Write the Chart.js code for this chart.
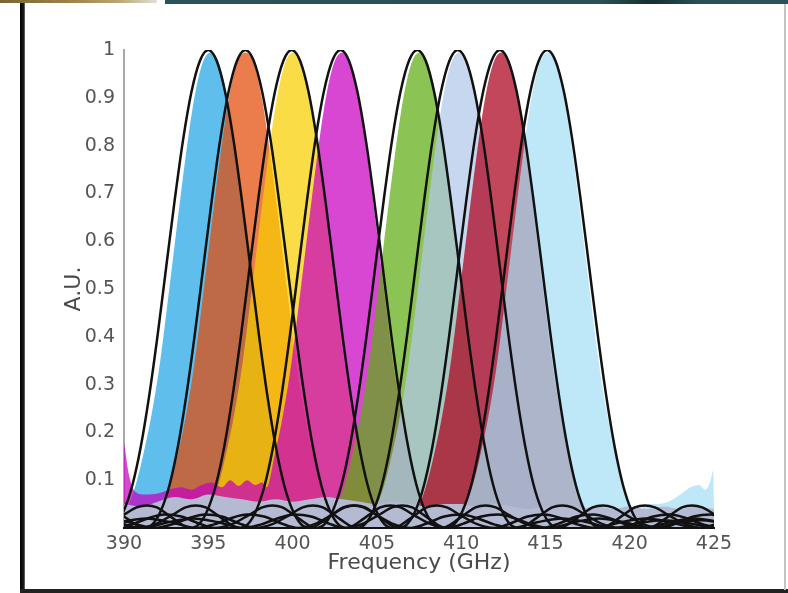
<!DOCTYPE html>
<html lang="en">
  <head>
    <meta charset="UTF-8" />
    <title>Channel spectra</title>
    <script src="https://cdn.jsdelivr.net/npm/chart.js"></script>
    <style>
      body { margin: 0; width: 788px; height: 593px; overflow: hidden; background: #fff; position: relative; }
      #chart { position: absolute; left: 0; top: 0; }
      .frame { position: absolute; }
    </style>
  </head>
  <body>
    <canvas id="chart" width="788" height="593"></canvas>
    <div class="frame" style="left:0;top:0;width:157px;height:3px;background:linear-gradient(to right,#7a6634,#9c8448 45%,#b9a56e 75%,#e2e0da)"></div>
    <div class="frame" style="left:165px;top:0;width:623px;height:4px;background:linear-gradient(to right,#2b5259,#2a5057 70%,#15302f 78%,#2a5057 86%,#2c535b)"></div>
    <div class="frame" style="left:20px;top:3px;width:5px;height:590px;background:linear-gradient(to right,#000,#1a1a1a 70%,#777)"></div>
    <div class="frame" style="left:20px;top:589px;width:768px;height:4px;background:#222"></div>
    <div class="frame" style="left:784px;top:4px;width:2px;height:586px;background:#c4c4c4"></div>
    <script>
      // axis ticks
      const xTicks = [390, 395, 400, 405, 410, 415, 420, 425];
      const yTicks = [0, 0.1, 0.2, 0.3, 0.4, 0.5, 0.6, 0.7, 0.8, 0.9, 1];
      const yTickLabels = ["", "0.1", "0.2", "0.3", "0.4", "0.5", "0.6", "0.7", "0.8", "0.9", "1"];

      // black model curves: same lobe shape, one per channel
      const peakCenters = [395.0, 397.2, 399.95, 402.85, 407.4, 409.8, 412.3, 415.1];
      const outlineDx = [-30, -28.5, -27, -25.5, -24, -22.5, -21, -19.5, -18, -17, -16, -15, -14, -13, -12, -11, -10, -9.2, -8.6, -8, -7.5, -7, -6, -5.5, -5, -4.5, -4, -3.5, -3, -2.5, -2, -1.5, -1, -0.5,
        0, 0.5, 1, 1.5, 2, 2.5, 3, 3.5, 4, 4.5, 5, 5.5, 6, 7, 7.5, 8, 8.6, 9.2, 10, 11, 12, 13, 14, 15, 16, 17, 18, 19.5, 21, 22.5, 24, 25.5, 27, 28.5, 30];
      const outlineY = [0, 0.01, 0.016, 0.01, 0, 0.012, 0.02, 0.012, 0, 0.007, 0.02, 0.028, 0.024, 0.01, 0, 0.008, 0.027, 0.043, 0.047, 0.043, 0.032, 0.019, 0, 0.008, 0.037, 0.09, 0.171, 0.278, 0.405, 0.545, 0.684, 0.811, 0.912, 0.977,
        1, 0.977, 0.912, 0.811, 0.684, 0.545, 0.405, 0.278, 0.171, 0.09, 0.037, 0.008, 0, 0.019, 0.032, 0.043, 0.047, 0.043, 0.027, 0.008, 0, 0.01, 0.024, 0.028, 0.02, 0.007, 0, 0.012, 0.02, 0.012, 0, 0.01, 0.016, 0.01, 0];

      // measured (coloured) spectra
      const fillCenters = [395.15, 397.2, 400.05, 402.95, 407.55, 409.9, 412.4, 415.15];
      const fillDx = [-5.5, -5, -4.5, -4, -3.5, -3, -2.5, -2, -1.5, -1, -0.5, 0, 0.5, 1, 1.5, 2, 2.5, 3, 3.5, 4, 4.5, 5, 5.5];
      const fillY = [0.02, 0.04, 0.085, 0.155, 0.24, 0.35, 0.49, 0.635, 0.775, 0.895, 0.972, 0.995, 0.972, 0.895, 0.775, 0.635, 0.49, 0.35, 0.24, 0.155, 0.085, 0.04, 0.02];
      const fillColors = [
        "rgba(33,165,227,0.72)",
        "rgba(227,74,5,0.72)",
        "rgba(248,206,0,0.72)",
        "rgba(199,0,192,0.72)",
        "rgba(95,172,19,0.72)",
        "rgba(179,199,234,0.72)",
        "rgba(172,0,26,0.72)",
        "rgba(165,223,245,0.72)"
      ];
      // noisy floor of channel 4 on the left, channel 8 on the right
      const ch4FloorX = [390, 390.3, 390.7, 391.3, 392, 392.7, 393.4, 394, 394.6, 395.2, 395.8, 396.3, 396.8, 397.3, 397.8, 398.2];
      const ch4FloorY = [0.18, 0.11, 0.075, 0.07, 0.072, 0.08, 0.085, 0.08, 0.09, 0.095, 0.085, 0.1, 0.088, 0.1, 0.09, 0.095];
      const ch8TailX = [420.8, 421.5, 422.3, 423, 423.6, 424.1, 424.5, 424.8, 424.95, 425];
      const ch8TailY = [0.045, 0.05, 0.055, 0.07, 0.085, 0.09, 0.08, 0.1, 0.12, 0.05];

      // grey noise floor under everything
      const floorX = [390, 391, 392, 393, 394, 395, 396, 397, 398, 399, 400, 401, 402, 403, 404, 405, 406, 407, 408, 409, 410, 411, 412, 413, 414, 415, 416, 417, 418, 419, 420, 421, 422, 423, 424, 425];
      const floorY = [0.05, 0.045, 0.055, 0.065, 0.06, 0.07, 0.065, 0.06, 0.055, 0.06, 0.055, 0.06, 0.065, 0.06, 0.055, 0.05, 0.055, 0.05, 0.045, 0.05, 0.05, 0.045, 0.05, 0.045, 0.04, 0.045, 0.045, 0.04, 0.045, 0.04, 0.045, 0.04, 0.045, 0.04, 0.045, 0.04];

      const FONT = "DejaVu Sans";

      const datasets = [];
      peakCenters.forEach((c) => {
        datasets.push({
          data: outlineDx.map((d, i) => ({ x: c + d, y: outlineY[i] })),
          borderColor: "#111",
          borderWidth: 2.5,
          fill: false,
          order: 0,
        });
      });
      datasets.push({
        data: floorX.map((x, i) => ({ x: x, y: floorY[i] })),
        borderColor: "rgba(0,0,0,0)",
        borderWidth: 0,
        backgroundColor: "#b5bad3",
        fill: "origin",
        order: 1,
      });
      fillCenters.forEach((c, k) => {
        let pts = fillDx.map((d, i) => ({ x: c + d, y: fillY[i] }));
        if (k === 3) {
          const extra = ch4FloorX.map((x, i) => ({ x: x, y: ch4FloorY[i] }));
          pts = extra.concat(pts.filter((p) => p.x > ch4FloorX[ch4FloorX.length - 1]));
        }
        if (k === 7) {
          const tail = ch8TailX.map((x, i) => ({ x: x, y: ch8TailY[i] }));
          pts = pts.filter((p) => p.x < ch8TailX[0]).concat(tail);
        }
        datasets.push({
          data: pts,
          borderColor: "rgba(0,0,0,0)",
          borderWidth: 0,
          backgroundColor: fillColors[k],
          fill: "origin",
          order: 9 - k,
        });
      });

      new Chart(document.getElementById("chart"), {
        type: "line",
        data: { datasets: datasets },
        options: {
          responsive: false,
          animation: false,
          events: [],
          layout: { padding: { left: 26, top: 50, right: 74, bottom: 0 } },
          elements: {
            point: { radius: 0 },
            line: { cubicInterpolationMode: "monotone" },
          },
          plugins: { legend: { display: false }, tooltip: { enabled: false } },
          scales: {
            x: {
              type: "linear",
              min: 390,
              max: 425,
              afterFit: (s) => { s.height = 65; },
              afterBuildTicks: (s) => { s.ticks = xTicks.map((v) => ({ value: v })); },
              grid: { display: false },
              border: { display: true, color: "#111", width: 2, z: 1 },
              ticks: { padding: 0, color: "#555", maxRotation: 0, autoSkip: false, font: { family: FONT, size: 19, lineHeight: 0.9 } },
              title: {
                display: true,
                text: "Frequency (GHz)",
                color: "#4a4a4a",
                font: { family: FONT, size: 22 },
                padding: { top: 0, bottom: 17 },
              },
            },
            y: {
              type: "linear",
              min: 0,
              max: 1,
              afterFit: (s) => { s.width = 98; },
              afterBuildTicks: (s) => { s.ticks = yTicks.map((v) => ({ value: v })); },
              grid: { display: false },
              border: { display: true, color: "#a8a8a8", width: 2 },
              ticks: {
                padding: 1,
                color: "#555",
                font: { family: FONT, size: 19 },
                callback: (v, i) => yTickLabels[i],
              },
              title: {
                display: true,
                text: "A.U.",
                color: "#4a4a4a",
                font: { family: FONT, size: 22 },
                padding: { top: 35, bottom: 0 },
              },
            },
          },
        },
      });
    </script>
  </body>
</html>
